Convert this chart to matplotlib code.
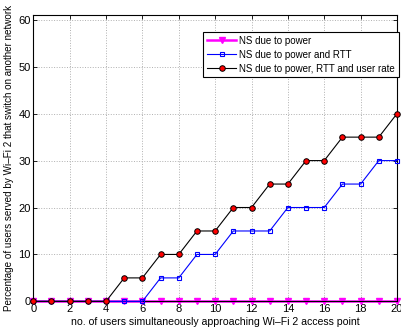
import matplotlib
matplotlib.use("Agg")
import matplotlib.pyplot as plt

users = list(range(0, 21))
ns_power = [0] * 21
ns_power_rtt = [0, 0, 0, 0, 0, 0, 0, 5, 5, 10, 10, 15, 15, 15, 20, 20, 20, 25, 25, 30, 30]
ns_power_rtt_rate = [0, 0, 0, 0, 0, 5, 5, 10, 10, 15, 15, 20, 20, 25, 25, 30, 30, 35, 35, 35, 40]

plt.rcParams['font.family'] = ['Liberation Sans', 'DejaVu Sans']

fig = plt.figure(figsize=(4.01, 3.29), dpi=100)
ax = fig.add_axes([0.083, 0.084, 0.907, 0.87])

ax.plot(users, ns_power, color='#ff00ff', lw=1.8, marker='v', ms=4,
        mfc='#ff00ff', mec='#ff00ff', label='NS due to power', zorder=2, clip_on=False)
ax.plot(users, ns_power_rtt, color='#0000ff', lw=0.8, marker='s', ms=3.2,
        mfc='none', mec='#0000ff', mew=0.8, label='NS due to power and RTT', zorder=3, clip_on=False)
ax.plot(users, ns_power_rtt_rate, color='black', lw=0.8, marker='o', ms=4,
        mfc='red', mec='black', mew=0.7, label='NS due to power, RTT and user rate', zorder=4, clip_on=False)

ax.set_xlim(0, 20)
ax.set_ylim(0, 61)
ax.set_xticks(range(0, 21, 2))
ax.set_yticks(range(0, 61, 10))
ax.tick_params(labelsize=8, direction='in', length=3, width=0.6, top=True, right=True, pad=2)
ax.grid(True, linestyle=':', color='#b0b0b0', lw=0.7)
for s in ax.spines.values():
    s.set_linewidth(0.8)

ax.set_xlabel('no. of users simultaneously approaching Wi\u2013Fi 2 access point', fontsize=7.6, labelpad=2)
ax.set_ylabel('Percentage of users served by Wi\u2013Fi 2 that switch on another network', fontsize=7.1, labelpad=3)

leg = ax.legend(loc='upper right', bbox_to_anchor=(0.995, 0.903), bbox_transform=fig.transFigure,
                fontsize=7, fancybox=False, edgecolor='black', framealpha=1,
                handlelength=3.0, borderpad=0.4, labelspacing=0.4,
                handletextpad=0.3, borderaxespad=0)
leg.get_frame().set_linewidth(0.8)

fig.savefig('out.png', dpi=100)
